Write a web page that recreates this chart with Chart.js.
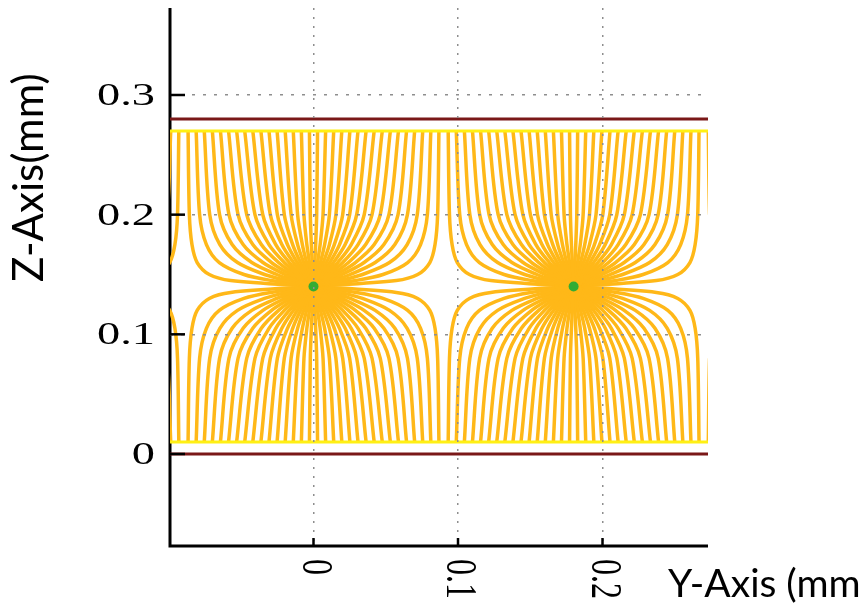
<!DOCTYPE html>
<html>
<head>
<meta charset="utf-8">
<title>Drift lines</title>
<style>
  html, body { margin: 0; padding: 0; background: #fff; }
  #wrap { position: relative; width: 865px; height: 605px; }
</style>
</head>
<body>
<div id="wrap"><canvas id="fieldChart" width="865" height="605"></canvas></div>
<script src="https://cdn.jsdelivr.net/npm/chart.js@4.4.1/dist/chart.umd.min.js"></script>
<script>
// wire positions (mm); the outer two sit just outside the view, their lines reach the edges
const wireY = [-0.18, 0, 0.18, 0.36];
const wireZ = 0.14;
const plateZ = [0, 0.28];
const startRowZ = [0.01, 0.27];

// heights above / below the wire plane at which each drift line was read
const sampleHeights = [0.13, 0.06, 0.035, 0.02, 0.01, 0.005];
// sideways distance of each drift line from its wire at those heights (one quadrant, mirrored)
const offsetAt130 = [0.0028, 0.0084, 0.0140, 0.0196, 0.0252, 0.0308, 0.0364, 0.0420, 0.0476, 0.0532, 0.0588, 0.0644, 0.0700, 0.0756, 0.0812, 0.0868];
const offsetAt60  = [0.0022, 0.0066, 0.0110, 0.0155, 0.0202, 0.0250, 0.0299, 0.0351, 0.0405, 0.0462, 0.0522, 0.0585, 0.0650, 0.0718, 0.0788, 0.0859];
const offsetAt35  = [0.0015, 0.0046, 0.0077, 0.0110, 0.0144, 0.0180, 0.0219, 0.0261, 0.0308, 0.0361, 0.0420, 0.0487, 0.0563, 0.0648, 0.0741, 0.0841];
const offsetAt20  = [0.0009, 0.0028, 0.0048, 0.0068, 0.0090, 0.0113, 0.0139, 0.0168, 0.0202, 0.0242, 0.0290, 0.0350, 0.0427, 0.0526, 0.0652, 0.0805];
const offsetAt10  = [0.0005, 0.0015, 0.0025, 0.0035, 0.0046, 0.0059, 0.0073, 0.0088, 0.0107, 0.0130, 0.0159, 0.0198, 0.0254, 0.0339, 0.0481, 0.0721];
const offsetAt5   = [0.0002, 0.0007, 0.0012, 0.0018, 0.0023, 0.0030, 0.0037, 0.0045, 0.0054, 0.0066, 0.0082, 0.0103, 0.0135, 0.0187, 0.0294, 0.0573];

const xTicks = [0, 0.1, 0.2];
const xTickLabels = ['0', '0.1', '0.2'];
const yTicks = [0, 0.1, 0.2, 0.3];
const yTickLabels = ['0', '0.1', '0.2', '0.3'];
const xTitle = 'Y-Axis (mm';
const yTitle = 'Z-Axis(mm)';

const X_MIN = -0.0993, X_MAX = 0.273;
const Y_MIN = -0.0769, Y_MAX = 0.3727;

const lineOrange = 'rgb(255,184,24)';

/* drift lines: one per start position, four quadrants per wire */
const offsetRows = [offsetAt130, offsetAt60, offsetAt35, offsetAt20, offsetAt10, offsetAt5];
const datasets = [];
wireY.forEach(wy => {
  [-1, 1].forEach(side => {
    [-1, 1].forEach(up => {
      offsetAt130.forEach((_, k) => {
        const pts = sampleHeights.map((h, j) => ({x: wy + side * offsetRows[j][k], y: wireZ + up * h}));
        pts.push({x: wy, y: wireZ});
        datasets.push({
          data: pts, showLine: true, borderColor: lineOrange, borderWidth: 3.5,
          pointRadius: 0, tension: 0.3, order: 3
        });
      });
    });
  });
});

startRowZ.forEach(z => {
  datasets.push({
    data: [{x: X_MIN, y: z}, {x: X_MAX, y: z}], showLine: true,
    borderColor: 'rgb(255,240,20)', borderWidth: 3, pointRadius: 0, order: 2
  });
});
plateZ.forEach(z => {
  datasets.push({
    data: [{x: X_MIN, y: z}, {x: X_MAX, y: z}], showLine: true,
    borderColor: 'rgb(122,24,24)', borderWidth: 3, pointRadius: 0, order: 1
  });
});
datasets.push({
  data: wireY.map(wy => ({x: wy, y: wireZ})),
  pointRadius: 5, pointBackgroundColor: 'rgb(52,172,52)', pointBorderWidth: 0, order: 0
});

/* axis lines under the data, inward ticks, stretched serif labels and the titles on top */
const axisDecor = {
  id: 'axisDecor',
  beforeDatasetsDraw(chart) {
    const {ctx, chartArea: a} = chart;
    ctx.save();
    ctx.strokeStyle = '#000';
    ctx.lineWidth = 3;
    ctx.beginPath();
    ctx.moveTo(a.left, a.top);
    ctx.lineTo(a.left, a.bottom);
    ctx.lineTo(a.right, a.bottom);
    ctx.stroke();
    ctx.restore();
  },
  afterDraw(chart) {
    const {ctx, chartArea: a, scales: {x, y}} = chart;
    ctx.save();
    ctx.strokeStyle = '#000';
    ctx.lineWidth = 2.5;
    y.ticks.forEach(t => {
      const py = y.getPixelForValue(t.value);
      ctx.beginPath(); ctx.moveTo(a.left, py); ctx.lineTo(a.left + 15, py); ctx.stroke();
    });
    x.ticks.forEach(t => {
      const px = x.getPixelForValue(t.value);
      ctx.beginPath(); ctx.moveTo(px, a.bottom); ctx.lineTo(px, a.bottom - 8); ctx.stroke();
    });

    ctx.fillStyle = '#000';
    ctx.font = '32px "Liberation Serif", serif';
    ctx.textBaseline = 'middle';
    yTicks.forEach((v, i) => {
      const py = y.getPixelForValue(v) + 1.5;
      ctx.save();
      ctx.translate(155, py);
      ctx.scale(1.45, 1);
      ctx.textAlign = 'right';
      ctx.fillText(yTickLabels[i], 0, 0);
      ctx.restore();
    });
    xTicks.forEach((v, i) => {
      const px = x.getPixelForValue(v) + 1;
      ctx.save();
      ctx.translate(px, 559);
      ctx.scale(1.4, 1);
      ctx.rotate(Math.PI / 2);
      ctx.textAlign = 'left';
      ctx.fillText(xTickLabels[i], 0, 0);
      ctx.restore();
    });

    ctx.font = '39px Lato, "Open Sans", sans-serif';
    ctx.textBaseline = 'alphabetic';
    ctx.textAlign = 'left';
    ctx.fillText(xTitle, 668, 597);
    ctx.save();
    ctx.translate(43, 282);
    ctx.rotate(-Math.PI / 2);
    ctx.font = '42px Lato, "Open Sans", sans-serif';
    ctx.fillText(yTitle, 0, 0);
    ctx.restore();
    ctx.restore();
  }
};

const ctx = document.getElementById('fieldChart').getContext('2d');
const fieldChart = new Chart(ctx, {
  type: 'scatter',
  data: { datasets: datasets },
  options: {
    responsive: false,
    animation: false,
    devicePixelRatio: 1,
    events: [],
    layout: { padding: {left: 170, right: 157, top: 8, bottom: 59}, autoPadding: false },
    plugins: { legend: {display: false}, tooltip: {enabled: false} },
    scales: {
      x: {
        type: 'linear', min: X_MIN, max: X_MAX,
        afterBuildTicks: ax => { ax.ticks = xTicks.map(v => ({value: v})); },
        ticks: {display: false},
        grid: {color: '#8e8e8e', lineWidth: 1.5, drawTicks: false, z: 1},
        border: {display: false, dash: [2, 7]}
      },
      y: {
        type: 'linear', min: Y_MIN, max: Y_MAX,
        afterBuildTicks: ax => { ax.ticks = yTicks.map(v => ({value: v})); },
        ticks: {display: false},
        grid: {
          color: c => (c.tick && c.tick.value === 0) ? 'rgba(0,0,0,0)' : '#8e8e8e',
          lineWidth: 1.5, drawTicks: false, z: 1
        },
        border: {display: false, dash: [3, 8]}
      }
    }
  },
  plugins: [axisDecor]
});
</script>
</body>
</html>
